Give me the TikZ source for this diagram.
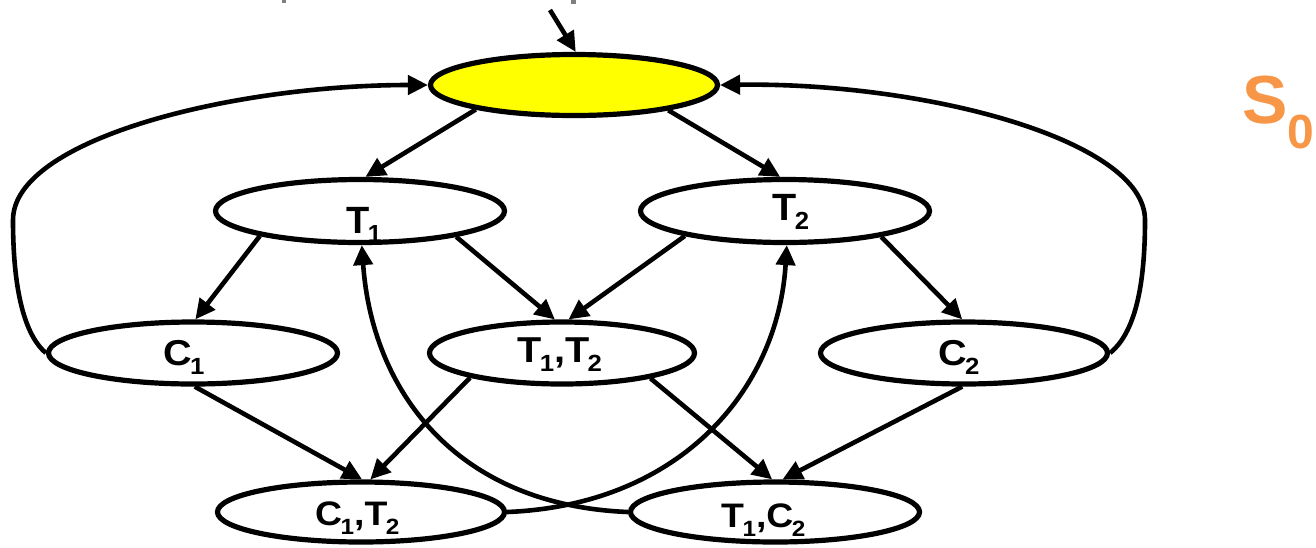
\documentclass[tikz,border=0pt]{standalone}
\usepackage{fontspec}
\setmainfont{Liberation Sans}
\usetikzlibrary{shapes.geometric,arrows.meta}
\definecolor{sorange}{HTML}{F79646}
\definecolor{syellow}{HTML}{FFFF00}
\newcommand{\dsub}[2][-0.25em]{\kern-0.04em\raisebox{#1}{\scalebox{0.65}{#2}}}
\newcommand{\lbl}[2]{\scalebox{#1}[1]{#2}}
\tikzset{
  st/.style={draw=black, line width=5.2pt, ellipse, inner sep=0pt, fill=white},
  lab/.style={anchor=base west, inner sep=0pt, font=\bfseries},
  big/.style={lab, font=\bfseries\fontsize{38}{40}\selectfont},
  mid/.style={lab, font=\bfseries\fontsize{36}{38}\selectfont},
  sml/.style={lab, font=\bfseries\fontsize{34}{35}\selectfont},
  arr/.style={line width=4.6pt, -{Triangle[length=20pt,width=19pt]}},
}
\begin{document}
\begin{tikzpicture}[x=1pt,y=-1pt]
\useasboundingbox (0,0) rectangle (1316,547);
% cut-off fragments at top edge
\fill[gray] (282,0) rectangle (286,3);
\fill[gray] (571,0) rectangle (576,4);

% states
\node[st, fill=syellow, minimum width=287pt, minimum height=61pt] (S0) at (574,85) {};
\node[st, minimum width=289pt, minimum height=63pt] (T1) at (360,211) {};
\node[st, minimum width=289pt, minimum height=63pt] (T2) at (785,211) {};
\node[st, minimum width=289pt, minimum height=62pt] (C1) at (193,353) {};
\node[st, minimum width=265pt, minimum height=62pt] (T1T2) at (562,353) {};
\node[st, minimum width=287pt, minimum height=62pt] (C2) at (964,353) {};
\node[st, minimum width=287pt, minimum height=60pt] (C1T2) at (361,512) {};
\node[st, minimum width=289pt, minimum height=60pt] (T1C2) at (775,512) {};

% labels
\node[big] (lT1) at (346,233) {\lbl{1.0}{T\dsub{1}}};
\node[big] (lT2) at (772,220) {\lbl{1.04}{T\dsub{2}}};
\node[mid] (lC1) at (163,365) {\lbl{1.1}{C\dsub{1}}};
\node[mid] (lT1T2) at (517,362) {\lbl{1.1}{T\dsub{1},T\dsub{2}}};
\node[mid] (lC2) at (938,365) {\lbl{1.1}{C\dsub{2}}};
\node[sml] (lC1T2) at (315,525) {\lbl{1.1}{C\dsub[-0.28em]{1},T\dsub[-0.28em]{2}}};
\node[sml] (lT1C2) at (721,527) {\lbl{1.1}{T\dsub[-0.28em]{1},C\dsub[-0.28em]{2}}};
\node[anchor=base west, inner sep=0pt, text=sorange, font=\bfseries\fontsize{68}{70}\selectfont] (s0lab) at (1242,123) {S\raisebox{-25pt}{\fontsize{48}{48}\selectfont 0}};

% initial arrow
\coordinate (init) at (550,10);
\draw[arr] (init) -- (S0.87);

% straight transitions
\draw[arr] (S0.194.7) -- (T1.81);
\draw[arr] (S0.345.2) -- (T2.98.5);
\draw[arr] (T1.194.8) -- (C1.86.5);
\draw[arr] (T1.345.8) -- (T1T2.102);
\draw[arr] (T2.194.4) -- (T1T2.79.7);
\draw[arr] (T2.345.7) -- (C2.93.5);
\draw[arr] (C1.273) -- (C1T2.88);
\draw[arr] (T1T2.195.5) -- (C1T2.74);
\draw[arr] (T1T2.344.6) -- (T1C2.95);
\draw[arr] (C2.267) -- (T1C2.77.6);

% loops back to S0
\draw[arr] (C1.west) .. controls (28,338) and (13,300) .. (13,220)
           .. controls (13,140) and (230,85) .. (S0.west);
\draw[arr] (C2.east) .. controls (1132,335) and (1145,295) .. (1145,220)
           .. controls (1145,140) and (925,82) .. (S0.east);

% crossing curves
\draw[arr] (C1T2.east) .. controls (680,505) and (778,390) .. (T2.-87);
\draw[arr] (T1C2.west) .. controls (455,505) and (372,390) .. (T1.-87);
\end{tikzpicture}
\end{document}
